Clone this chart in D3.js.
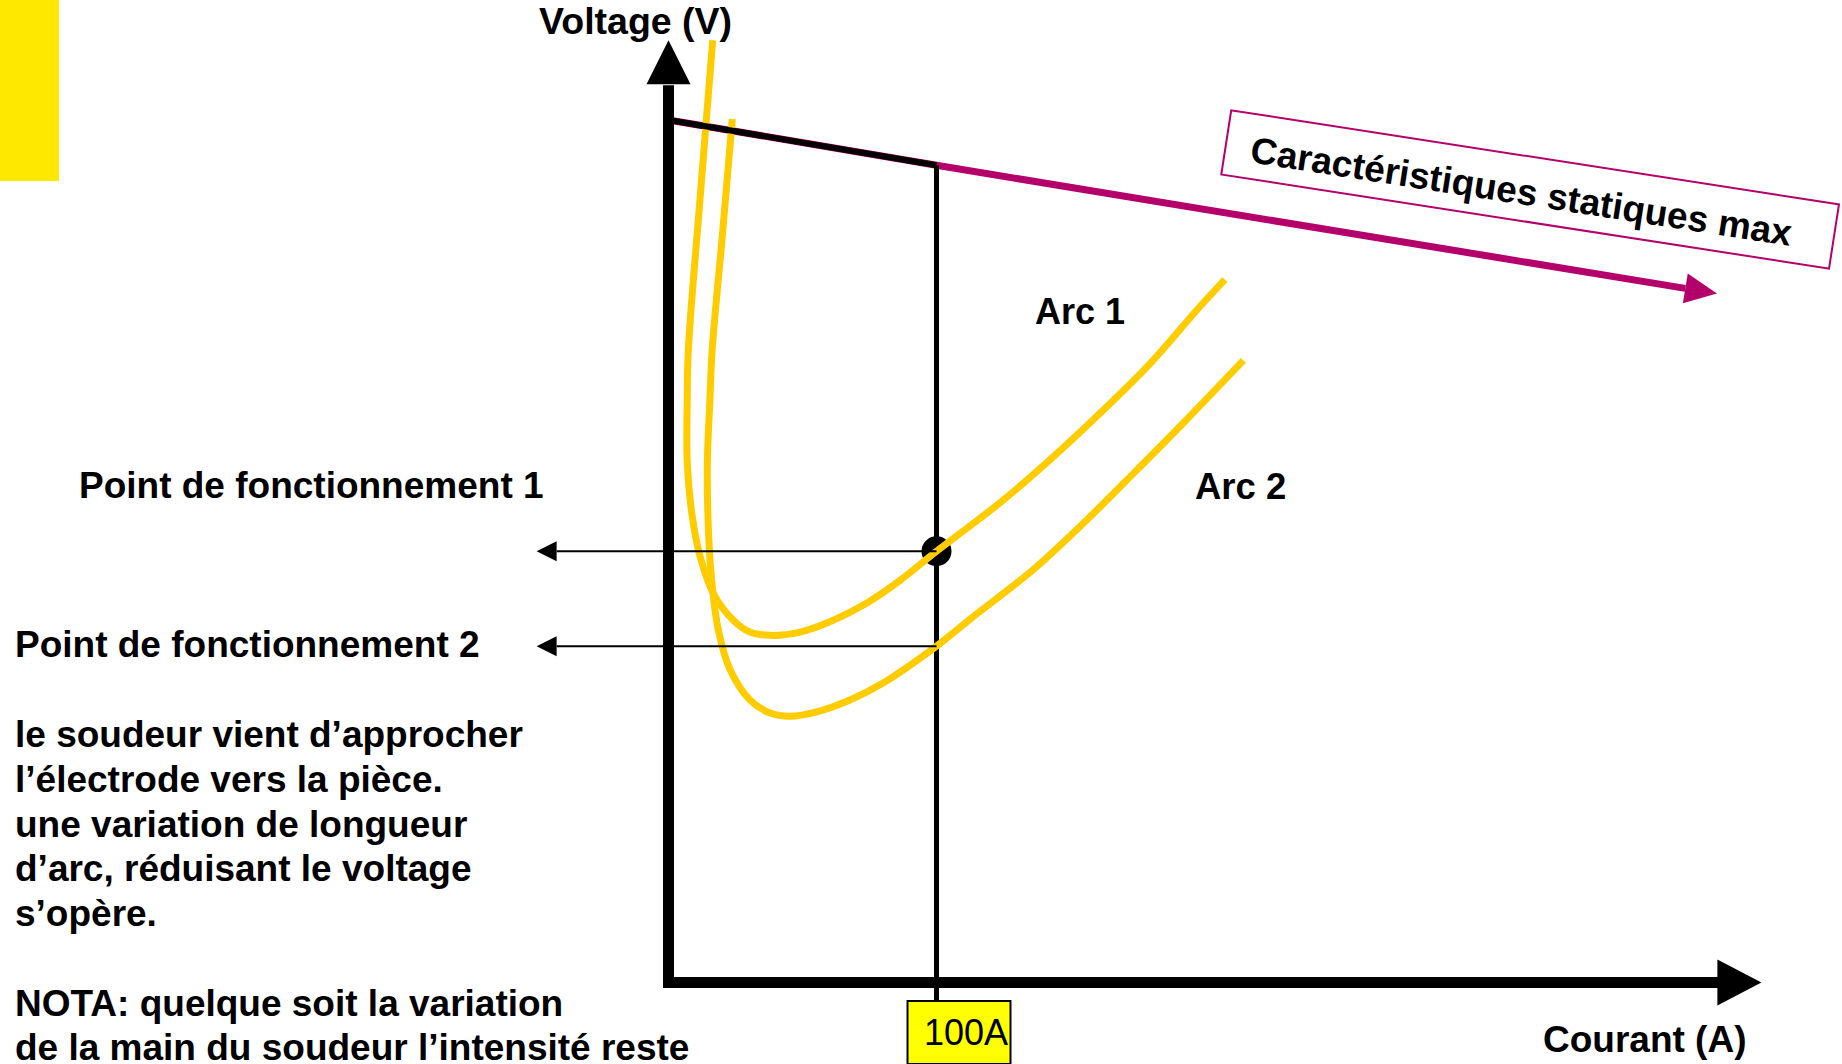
<!DOCTYPE html>
<html>
<head>
<meta charset="utf-8">
<script src="https://cdn.jsdelivr.net/npm/d3@7"></script>
<style>
  body { margin: 0; background: #fff; }
  svg { display: block; background: #fff; }
  text { font-family: "Liberation Sans", Arial, sans-serif; font-weight: bold; fill: #000; }
</style>
</head>
<body>
<svg id="chart"></svg>
<script>
// courant (A) et tension (V)
const arc1Current = [16.5, 11.9, 7.4, 7.0, 7.0, 8.7, 11.8, 16.7, 24.2, 30.4, 37.9, 49.1, 61.5, 74.0, 86.4, 100.0, 123.7, 142.4, 161.0, 179.7, 198.3, 207.6];
const arc1Voltage = [87.4, 73.1, 58.7, 54.3, 48.2, 43.5, 39.5, 36.1, 33.6, 32.5, 32.2, 32.5, 33.6, 35.2, 37.3, 40.0, 44.5, 48.5, 52.8, 57.4, 62.7, 65.2];
const arc2Current = [23.8, 20.1, 16.3, 15.5, 14.5, 14.9, 16.1, 18.6, 23.0, 30.4, 37.9, 45.3, 55.3, 67.7, 80.2, 100.0, 112.5, 136.1, 154.8, 173.4, 192.1, 214.5];
const arc2Voltage = [80.1, 69.3, 58.7, 54.3, 48.2, 42.0, 37.3, 32.7, 29.0, 26.2, 25.0, 24.7, 25.1, 26.2, 27.8, 31.2, 33.7, 38.3, 42.6, 47.2, 51.9, 57.7];

// caracteristique statique max
const staticCurrent = [0, 100, 391.2];
const staticVoltage = [80, 75.8, 63.9];

// points de fonctionnement
const opCurrent = [100, 100];
const opVoltage = [40.0, 31.2];
const opLabels = ["Point de fonctionnement 1", "Point de fonctionnement 2"];
const opArrowTip = -49.2; // A

const tickValues = [100];
const xAxisEnd = 407.8; // A
const yAxisEnd = 87.4;  // V

const noteLines = [
  "le soudeur vient d\u2019approcher",
  "l\u2019\u00e9lectrode vers la pi\u00e8ce.",
  "une variation de longueur",
  "d\u2019arc, r\u00e9duisant le voltage",
  "s\u2019op\u00e8re."
];
const nota = [
  "NOTA: quelque soit la variation",
  "de la main du soudeur l\u2019intensit\u00e9 reste"
];

const width = 1842, height = 1064;
const magenta = "#b4006a", gold = "#ffcc00";

const svg = d3.select("#chart").attr("width", width).attr("height", height);

const x = d3.scaleLinear().domain([0, 100]).range([668.5, 936.5]);
const y = d3.scaleLinear().domain([0, 80]).range([982.5, 120]);

// tete de fleche : triangle plein
function head(tip, from, len, half) {
  const dx = tip[0] - from[0], dy = tip[1] - from[1];
  const l = Math.hypot(dx, dy), ux = dx / l, uy = dy / l;
  const bx = tip[0] - ux * len, by = tip[1] - uy * len;
  return { base: [bx, by], d: `M${tip[0]},${tip[1]}L${bx - uy * half},${by + ux * half}L${bx + uy * half},${by - ux * half}Z` };
}

// bandeau jaune
svg.append("rect").attr("x", 0).attr("y", 0).attr("width", 59).attr("height", 181).attr("fill", "#ffe800");

// caracteristique statique (magenta + fleche)
const st = d3.zip(staticCurrent, staticVoltage).map(([A, V]) => [x(A), y(V)]);
const stHead = head(st[2], st[1], 32, 15);
svg.append("path")
  .attr("d", d3.line()([st[0], st[1], stHead.base]))
  .attr("fill", "none").attr("stroke", magenta).attr("stroke-width", 7);
svg.append("path").attr("d", stHead.d).attr("fill", magenta);

// verticale a 100 A
svg.append("line")
  .attr("x1", x(tickValues[0])).attr("x2", x(tickValues[0]))
  .attr("y1", y(staticVoltage[1])).attr("y2", y(0) + 18)
  .attr("stroke", "#000").attr("stroke-width", 5);

// point de fonctionnement 1
svg.append("circle").attr("cx", x(opCurrent[0])).attr("cy", y(opVoltage[0])).attr("r", 15).attr("fill", "#000");

// courbes d'arc
const arcLine = d3.line().x(d => x(d[0])).y(d => y(d[1])).curve(d3.curveCatmullRom.alpha(0.5));
[d3.zip(arc1Current, arc1Voltage), d3.zip(arc2Current, arc2Voltage)].forEach(pts => {
  svg.append("path").attr("d", arcLine(pts))
    .attr("fill", "none").attr("stroke", gold).attr("stroke-width", 7);
});

// partie noire de la caracteristique
svg.append("path")
  .attr("d", d3.line()([st[0], st[1]]))
  .attr("fill", "none").attr("stroke", "#000").attr("stroke-width", 6);

// fleches horizontales vers les libelles
opVoltage.forEach((v, i) => {
  const tip = [x(opArrowTip), y(v)], from = [x(opCurrent[i]), y(v)];
  const h = head(tip, from, 20, 10);
  svg.append("line").attr("x1", from[0]).attr("y1", from[1]).attr("x2", h.base[0]).attr("y2", h.base[1])
    .attr("stroke", "#000").attr("stroke-width", 2);
  svg.append("path").attr("d", h.d).attr("fill", "#000");
});

// axes
const yTip = [x(0), y(yAxisEnd)], yHead = head(yTip, [x(0), y(0)], 44, 22);
svg.append("line").attr("x1", x(0)).attr("x2", x(0)).attr("y1", y(0) + 5.5).attr("y2", yHead.base[1] + 1)
  .attr("stroke", "#000").attr("stroke-width", 11);
svg.append("path").attr("d", yHead.d).attr("fill", "#000");

const xTip = [x(xAxisEnd), y(0)], xHead = head(xTip, [x(0), y(0)], 44, 23);
svg.append("line").attr("x1", x(0) - 5.5).attr("x2", xHead.base[0] + 1).attr("y1", y(0)).attr("y2", y(0))
  .attr("stroke", "#000").attr("stroke-width", 11);
svg.append("path").attr("d", xHead.d).attr("fill", "#000");

// graduation 100A
tickValues.forEach(t => {
  svg.append("rect")
    .attr("x", x(t) - 29).attr("y", y(0) + 18.5).attr("width", 103).attr("height", 63)
    .attr("fill", "#ffff00").attr("stroke", "#000").attr("stroke-width", 2);
  svg.append("text").attr("x", x(t) - 12.5).attr("y", 1045)
    .style("font-weight", "normal").style("font-size", "36px").text(t + "A");
});

// libelles
const lab = (tx, ty, s, size) => svg.append("text").attr("x", tx).attr("y", ty).style("font-size", (size || 37) + "px").text(s);
lab(539, 34, "Voltage (V)", 37.5);
lab(1543, 1052, "Courant (A)", 37);
lab(1035, 324, "Arc 1", 36);
lab(1195, 499, "Arc 2", 36.5);
lab(79, 498, opLabels[0]);
lab(15, 657, opLabels[1]);
noteLines.forEach((s, i) => lab(15, 747 + i * 44.8, s));
nota.forEach((s, i) => lab(15, 1016 + i * 44, s));

// encadre "Caracteristiques statiques max"
const box = svg.append("g").attr("transform", `translate(${x(321.5)},${y(73.56)}) rotate(8.8)`);
box.append("rect").attr("x", -307.5).attr("y", -32.5).attr("width", 615).attr("height", 65)
  .attr("fill", "#fff").attr("stroke", magenta).attr("stroke-width", 2);
box.append("text").attr("x", -282).attr("y", 16).style("font-size", "37px").text("Caract\u00e9ristiques statiques max");
</script>
</body>
</html>
